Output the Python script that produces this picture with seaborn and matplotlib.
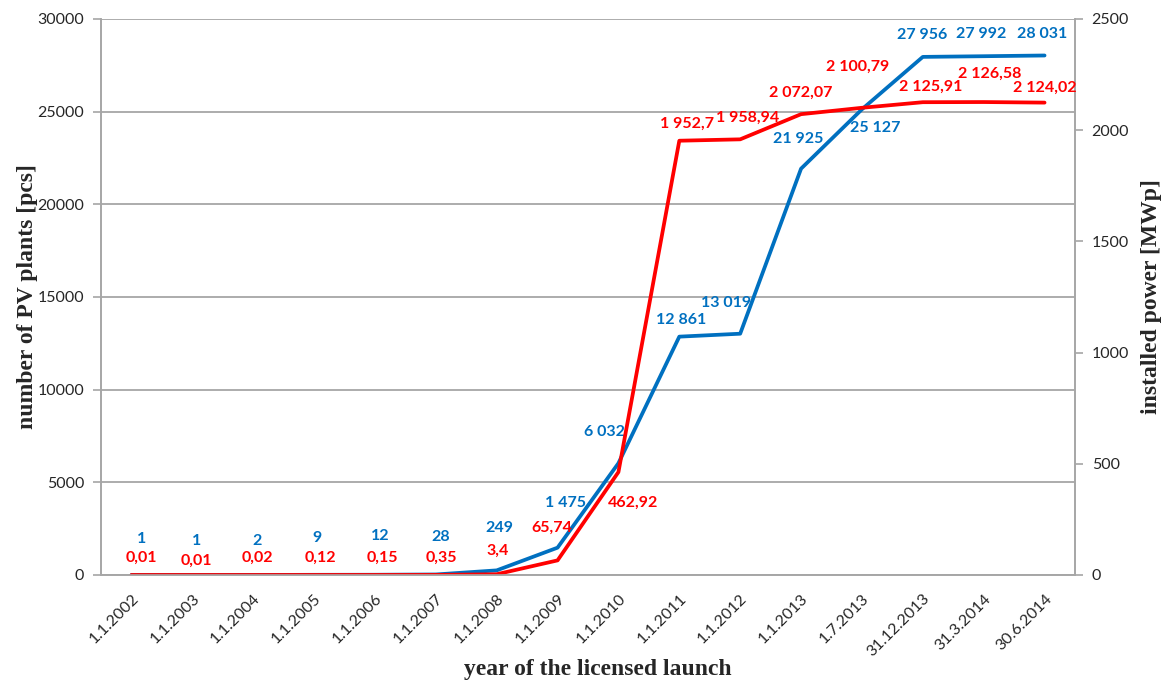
import matplotlib
matplotlib.use("Agg")
import matplotlib.pyplot as plt
import seaborn as sns
import pandas as pd

# data
dates = ["1.1.2002", "1.1.2003", "1.1.2004", "1.1.2005", "1.1.2006", "1.1.2007",
         "1.1.2008", "1.1.2009", "1.1.2010", "1.1.2011", "1.1.2012", "1.1.2013",
         "1.7.2013", "31.12.2013", "31.3.2014", "30.6.2014"]
plants = [1, 1, 2, 9, 12, 28, 249, 1475, 6032, 12861, 13019, 21925, 25127, 27956, 27992, 28031]
power = [0.01, 0.01, 0.02, 0.12, 0.15, 0.35, 3.4, 65.74, 462.92, 1952.7, 1958.94,
         2072.07, 2100.79, 2125.91, 2126.58, 2124.02]

# label offsets in pixels (dx, dy with y downwards) - style only
blue_off = [(10, -36), (4, -34), (4, -34), (3, -37), (5, -39), (5, -37), (3, -42), (8, -45),
            (-14, -31), (2, -17), (-14, -31), (-3, -30), (13, 19), (-1, -22), (-2, -22), (-2, -21)]
red_off = [(10, -17), (4, -14), (4, -17), (6, -17), (7, -17), (6, -17), (1, -23), (-6, -33),
           (15, 31), (8, -17), (7, -22), (0, -21), (-4, -41), (8, -15), (6, -28), (0, -15)]

BLUE = "#0070C0"
RED = "#FF0000"
GRID = "#A6A6A6"

df = pd.DataFrame({"pos": range(len(dates)), "plants": plants, "power": power})

sns.set_style("white")
plt.rcParams["font.family"] = ["Lato", "DejaVu Sans"]

fig = plt.figure(figsize=(11.73, 6.84), dpi=100)
ax = fig.add_axes([101 / 1173, 1 - 575 / 684, (1075 - 101) / 1173, (575 - 19) / 684])
ax2 = ax.twinx()

sns.lineplot(data=df, x="pos", y="plants", ax=ax, color=BLUE, linewidth=2.7)
sns.lineplot(data=df, x="pos", y="power", ax=ax2, color=RED, linewidth=2.7)

ax.set_xlim(-0.5, len(dates) - 0.5)
ax.set_ylim(0, 30000)
ax2.set_ylim(0, 2500)
ax.set_yticks(range(0, 30001, 5000))
ax2.set_yticks(range(0, 2501, 500))

ax.grid(axis="y", color=GRID, linewidth=1.3)
ax.set_axisbelow(True)

for a in (ax, ax2):
    for s in a.spines.values():
        s.set_color(GRID)
        s.set_linewidth(1.2)
    a.spines["top"].set_visible(False)

ax.set_xticks(range(len(dates)))
ax.set_xticklabels(dates, rotation=45, ha="right", rotation_mode="anchor", fontsize=11.5, color="#262626")
ax.set_xticks([i - 0.5 for i in range(len(dates) + 1)], minor=True)
ax.tick_params(axis="x", which="major", length=0, pad=12)
ax.tick_params(axis="x", which="minor", length=6, color=GRID, width=1.2, direction="out")
ax.tick_params(axis="y", length=6, color=GRID, width=1.2, labelsize=11.5, labelcolor="#262626", pad=6, left=True)
ax2.tick_params(axis="y", length=6, color=GRID, width=1.2, labelsize=11.5, labelcolor="#262626", pad=6, right=True)

serif = {"family": ["Liberation Serif", "DejaVu Serif"], "weight": "bold", "size": 17}
ax.set_xlabel("year of the licensed launch", fontdict=serif)
ax.set_ylabel("number of PV plants [pcs]", fontdict=serif)
ax2.set_ylabel("installed power [MWp]", fontdict=serif)
ax.xaxis.set_label_coords((598 - 101) / 974, -(670 - 575) / 556)
ax.yaxis.set_label_coords(-(101 - 28) / 974, 0.5)
ax2.yaxis.set_label_coords((1151 - 101) / 974, 0.5)
ax.xaxis.label.set_va("center")
ax.yaxis.label.set_va("center")
ax2.yaxis.label.set_va("center")


def fmt_blue(v):
    return f"{v:,}".replace(",", " ")


def fmt_red(v):
    s = f"{v:,.2f}".rstrip("0").rstrip(".")
    return s.replace(",", " ").replace(".", ",")


for i, v in enumerate(plants):
    dx, dy = blue_off[i]
    ax.annotate(fmt_blue(v), (i, v), xytext=(dx, -dy), textcoords="offset pixels",
                ha="center", va="center", color=BLUE, fontsize=11.5, fontweight="bold",
                annotation_clip=False)
for i, v in enumerate(power):
    dx, dy = red_off[i]
    ax2.annotate(fmt_red(v), (i, v), xytext=(dx, -dy), textcoords="offset pixels",
                 ha="center", va="center", color=RED, fontsize=11.5, fontweight="bold",
                 annotation_clip=False)

fig.savefig("out.png", dpi=100)
